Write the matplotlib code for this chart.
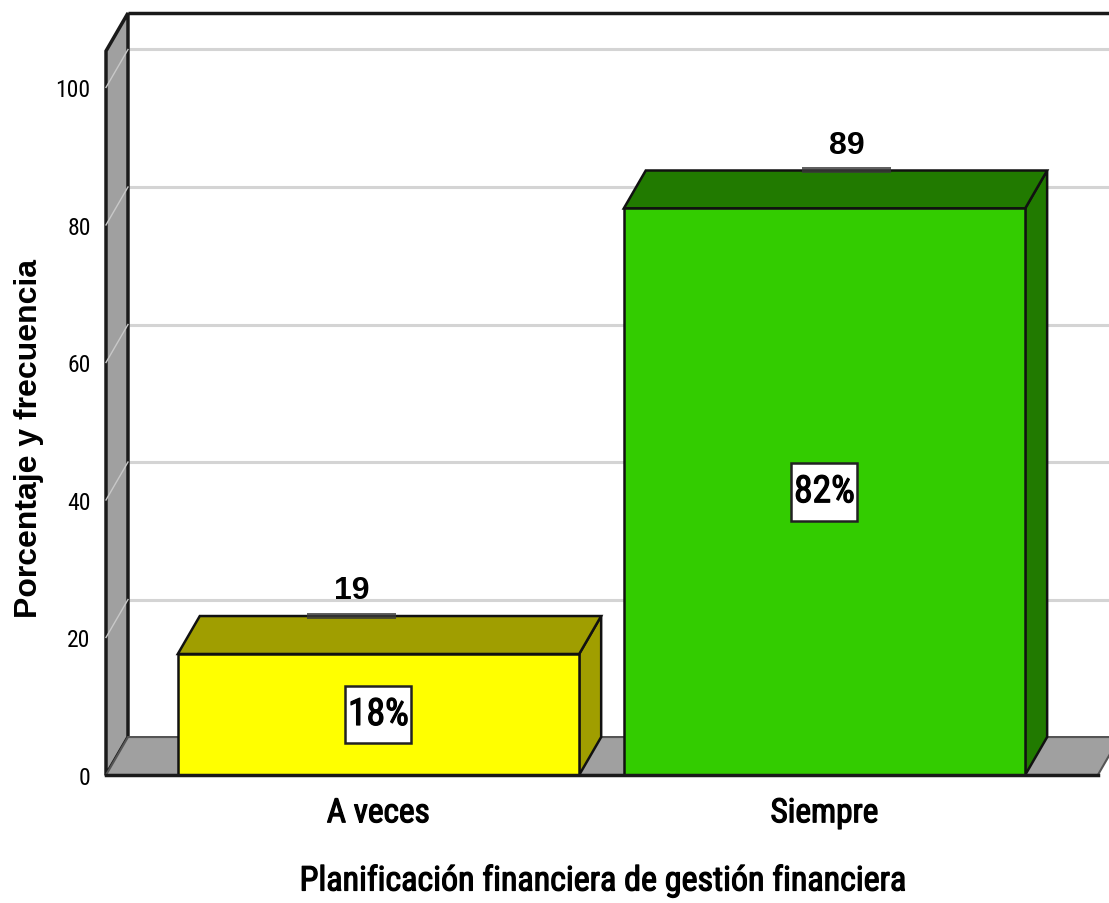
import matplotlib
matplotlib.use("Agg")
import matplotlib.pyplot as plt
import matplotlib.patheffects as pe
from matplotlib.patches import Polygon, Rectangle

categorias = ["A veces", "Siempre"]
porcentajes = [17.6, 82.4]
frecuencias = [19, 89]
etiquetas_pct = ["18%", "82%"]
colores_frente = ["#ffff00", "#33cc00"]
colores_lado = ["#a09e00", "#217a00"]
yticks = [0, 20, 40, 60, 80, 100]

narrow = ["Liberation Sans Narrow", "Roboto Condensed", "Liberation Sans", "DejaVu Sans"]
bold = ["Liberation Sans", "DejaVu Sans"]
grueso = [pe.withStroke(linewidth=0.9, foreground="black")]

W, H = 1109, 904
fig = plt.figure(figsize=(W / 100, H / 100), dpi=100)
ax = fig.add_axes([106 / W, (H - 776) / H, (W - 106) / W, (776 - 52) / H])

x0, x1 = -0.611, 1.638
ymax = 105.3
ax.set_xlim(x0, x1)
ax.set_ylim(0, ymax)
dx, dy = 0.0493, 5.52   # profundidad 3D
ancho = 0.9
desp_etiqueta = [-0.06, 0.05]

for s in ax.spines.values():
    s.set_visible(False)
ax.patch.set_visible(False)

# pared del fondo
ax.add_patch(Rectangle((x0 + dx, dy), x1 - x0, ymax, facecolor="white",
                       edgecolor="none", zorder=0, clip_on=False))
ax.plot([x0 + dx, x1 + 0.1], [ymax + dy, ymax + dy], color="#1a1a1a", lw=2.5,
        clip_on=False, zorder=1, solid_capstyle="butt")
for v in yticks[1:]:
    ax.plot([x0 + dx, x1 + 0.1], [v + dy, v + dy], color="#d4d4d4", lw=2.2,
            clip_on=False, zorder=1)

# pared izquierda
ax.add_patch(Polygon([(x0, 0), (x0 + dx, dy), (x0 + dx, ymax + dy), (x0, ymax)],
                     closed=True, facecolor="#a0a0a0", edgecolor="#1a1a1a",
                     lw=2.5, zorder=2, clip_on=False, joinstyle="miter"))
for v in yticks[1:]:
    ax.plot([x0, x0 + dx], [v, v + dy], color="#c8c8c8", lw=1, clip_on=False, zorder=3)

# suelo
x_fin = 1.613
ax.add_patch(Polygon([(x0, 0), (x0 + dx, dy), (x_fin + dx, dy), (x_fin, 0)],
                     closed=True, facecolor="#a0a0a0", edgecolor="#555555",
                     lw=1.5, zorder=2, clip_on=False))
ax.plot([x0, x_fin], [0, 0], color="#1a1a1a", lw=2.5, clip_on=False, zorder=6)

# barras 3D
for i, (p, n, lab) in enumerate(zip(porcentajes, frecuencias, etiquetas_pct)):
    l, r = i - ancho / 2, i + ancho / 2
    ax.add_patch(Polygon([(r, 0), (r + dx, dy), (r + dx, p + dy), (r, p)], closed=True,
                         facecolor=colores_lado[i], edgecolor="#111111", lw=1.8,
                         zorder=4, clip_on=False))
    ax.add_patch(Polygon([(l, p), (l + dx, p + dy), (r + dx, p + dy), (r, p)], closed=True,
                         facecolor=colores_lado[i], edgecolor="#111111", lw=1.8,
                         zorder=4, clip_on=False))
    ax.bar(i, p, width=ancho, color=colores_frente[i], edgecolor="#111111",
           lw=1.8, zorder=5, clip_on=False)
    # caja del porcentaje
    ax.add_patch(Rectangle((i - 0.074, p / 2 - 4.2), 0.148, 8.4, facecolor="white",
                           edgecolor="#222222", lw=1.8, zorder=6))
    ax.text(i, p / 2, lab, ha="center", va="center", fontsize=27, family=narrow,
            zorder=7, path_effects=grueso)
    # frecuencia
    xe = i + desp_etiqueta[i]
    ax.add_patch(Rectangle((xe - 0.1, p + dy - 0.4), 0.2, 0.9, facecolor="#3a3a3a",
                           edgecolor="none", zorder=6, alpha=0.8))
    ax.text(xe, p + dy + 2.6, str(n), ha="center", va="baseline", fontsize=23,
            family=bold, fontweight="bold", zorder=7)

ax.set_yticks(yticks)
ax.set_yticklabels([str(v) for v in yticks], family=narrow, fontsize=17)
ax.set_xticks(range(len(categorias)))
ax.set_xticklabels(categorias, family=narrow, fontsize=24)
for t in ax.get_xticklabels():
    t.set_path_effects(grueso)
ax.tick_params(axis="y", length=0, pad=11)
ax.tick_params(axis="x", length=0, pad=16)

ax.set_xlabel("Planificación financiera de gestión financiera", family=narrow,
              fontsize=24.5, path_effects=grueso)
ax.xaxis.set_label_coords((603 - 106) / (W - 106), -(866 - 776) / (776 - 52))
ax.set_ylabel("Porcentaje y frecuencia", family=bold, fontweight="bold", fontsize=23)
ax.yaxis.set_label_coords(-(106 - 44) / (W - 106), (776 - 439) / (776 - 52))

fig.savefig("out.png", dpi=100)
